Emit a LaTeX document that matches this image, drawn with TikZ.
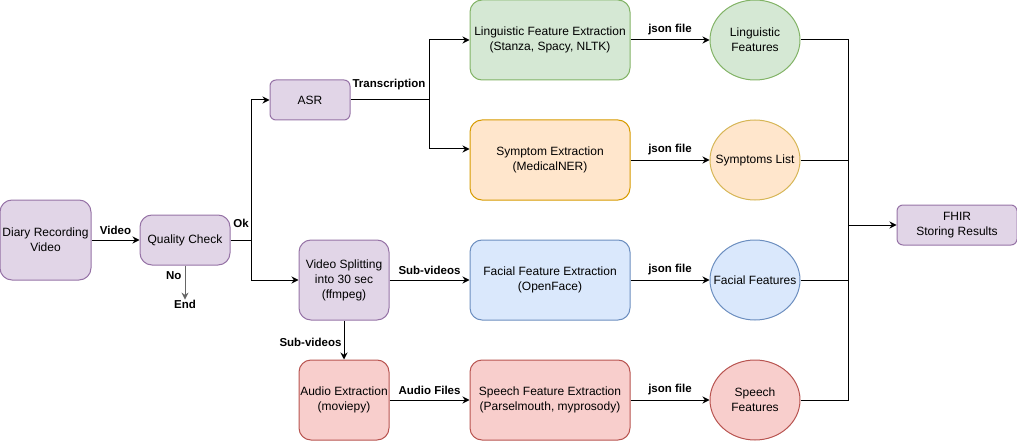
\documentclass[tikz,border=0pt]{standalone}
\usepackage{fontspec}
\setmainfont{Liberation Sans}
\usetikzlibrary{arrows.meta,shapes.geometric}
\definecolor{pfill}{HTML}{E1D5E7}\definecolor{pdraw}{HTML}{9673A6}
\definecolor{gfill}{HTML}{D5E8D4}\definecolor{gdraw}{HTML}{82B366}
\definecolor{ofill}{HTML}{FFE6CC}\definecolor{odraw}{HTML}{D79B00}
\definecolor{ydraw}{HTML}{D6B656}
\definecolor{bfill}{HTML}{DAE8FC}\definecolor{bdraw}{HTML}{6C8EBF}
\definecolor{rfill}{HTML}{F8CECC}\definecolor{rdraw}{HTML}{B85450}
\tikzset{
  every node/.style={font=\fontsize{12}{15}\selectfont, align=center, inner sep=0pt},
  box/.style={draw, line width=1pt, rounded corners=12pt},
  smallbox/.style={draw, line width=1pt, rounded corners=6pt},
  purplebox/.style={fill=pfill, draw=pdraw},
  ell/.style={ellipse, draw, line width=1pt, minimum width=90pt, minimum height=80pt},
  conn/.style={line width=1pt},
  arr/.style={conn, -{Stealth[length=7pt,width=7pt]}},
  lbl/.style={font=\fontsize{11.5}{14}\selectfont\bfseries}
}
\begin{document}
\begin{tikzpicture}[x=1pt,y=-1pt]
\useasboundingbox (0,0) rectangle (1017,441);
% process boxes
\node[box,purplebox,minimum width=91pt,minimum height=80pt] (diary) at (45.5,240) {Diary Recording\\Video};
\node[box,purplebox,minimum width=90pt,minimum height=50pt] (qc) at (185,240) {Quality Check};
\node[lbl] (end) at (185,304) {End};
\node[smallbox,purplebox,minimum width=80pt,minimum height=40pt] (asr) at (310,100) {ASR};
\node[box,purplebox,minimum width=90pt,minimum height=80pt] (split) at (344,280) {Video Splitting\\into 30 sec\\(ffmpeg)};
\node[box,fill=rfill,draw=rdraw,minimum width=90pt,minimum height=80pt] (audio) at (344,400) {Audio Extraction\\(moviepy)};
\node[box,fill=gfill,draw=gdraw,minimum width=160pt,minimum height=80pt] (ling) at (550,40) {Linguistic Feature Extraction\\(Stanza, Spacy, NLTK)};
\node[box,fill=ofill,draw=odraw,minimum width=160pt,minimum height=80pt] (symp) at (550,160) {Symptom Extraction\\(MedicalNER)};
\node[box,fill=bfill,draw=bdraw,minimum width=160pt,minimum height=80pt] (face) at (550,280) {Facial Feature Extraction\\(OpenFace)};
\node[box,fill=rfill,draw=rdraw,minimum width=160pt,minimum height=80pt] (speech) at (550,400) {Speech Feature Extraction\\(Parselmouth, myprosody)};
% ellipses (fixed size, text placed on top)
\node[ell,fill=gfill,draw=gdraw] (lingF) at (755,40) {};
\node at (lingF) {Linguistic\\Features};
\node[ell,fill=ofill,draw=ydraw] (sympF) at (755,160) {};
\node at (sympF) {Symptoms List};
\node[ell,fill=bfill,draw=bdraw] (faceF) at (755,280) {};
\node at (faceF) {Facial Features};
\node[ell,fill=rfill,draw=rdraw] (speechF) at (755,400) {};
\node at (speechF) {Speech\\Features};
\node[smallbox,purplebox,minimum width=120pt,minimum height=40pt] (fhir) at (957,225) {FHIR\\Storing Results};
% junction coordinates
\coordinate (jok) at (251,240);
\coordinate (jtr) at (429,100);
\coordinate (bus) at (848,225);
% connectors
\draw[arr] (diary) -- node[lbl,above=5pt] {Video} (qc);
\draw[arr,draw=black!60] (qc) -- node[lbl,left=3pt,pos=0.3,text=black] {No} (end);
\draw[conn] (qc.east) -- (jok);
\node[lbl] at (241,223) {Ok};
\draw[arr] (jok) |- (asr.west);
\draw[arr] (jok) |- (split.west);
\draw[conn] (asr.east) -- (jtr);
\node[lbl] at (389,85) {Transcription};
\draw[arr] (jtr) |- (ling.west);
\draw[arr] (jtr) |- ([yshift=11pt]symp.west);
\draw[arr] (split) -- node[lbl,above=5pt] {Sub-videos} (face);
\draw[arr] (split) -- node[lbl,left=2pt,pos=0.55] {Sub-videos} (audio);
\draw[arr] (audio) -- node[lbl,above=5pt] {Audio Files} (speech);
\foreach \a/\b in {ling/lingF,symp/sympF,face/faceF,speech/speechF}{
  \draw[arr] (\a) -- node[lbl,above=5pt] {json file} (\b);
}
\draw[conn] (lingF.east) -| (bus);
\draw[conn] (speechF.east) -| (bus);
\draw[conn] (sympF.east) -- (sympF.east -| bus);
\draw[conn] (faceF.east) -- (faceF.east -| bus);
\draw[arr] (bus) -- (fhir);
\end{tikzpicture}
\end{document}
